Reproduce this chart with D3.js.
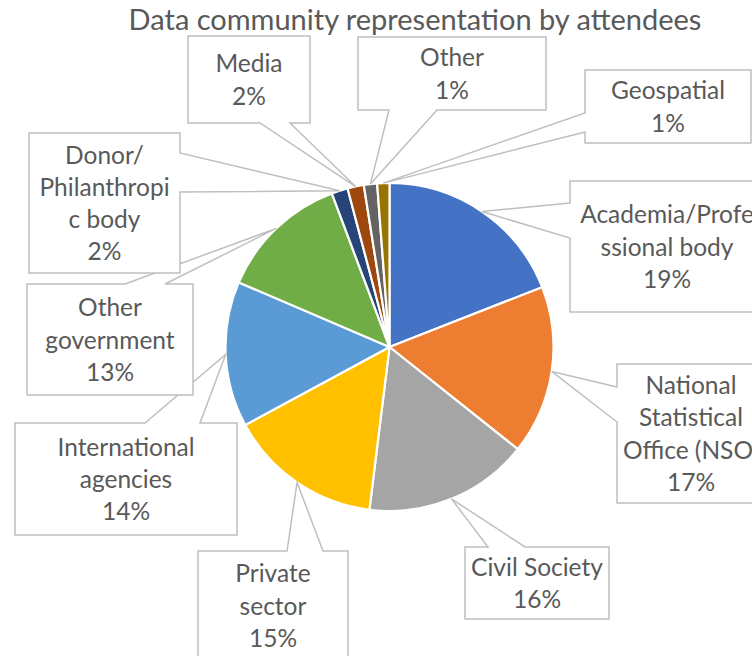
<!DOCTYPE html>
<html>
<head>
<meta charset="utf-8">
<script src="https://cdn.jsdelivr.net/npm/d3@7"></script>
<style>
  html, body { margin: 0; padding: 0; background: #fff; }
  svg { display: block; }
</style>
</head>
<body>
<svg id="chart" width="752" height="656"></svg>
<script>
// ---- data ----
const title = "Data community representation by attendees";
const categories = [
  "Academia/Professional body",
  "National Statistical Office (NSO)",
  "Civil Society",
  "Private sector",
  "International agencies",
  "Other government",
  "Donor/Philanthropic body",
  "Media",
  "Other",
  "Geospatial"
];
// share of attendees (percent)
const values = [19.0, 16.6, 16.2, 15.1, 14.3, 12.8, 1.6, 1.6, 1.3, 1.2];
// label text as wrapped in the original callouts
const labelLines = [
  ["Academia/Profe", "ssional body"],
  ["National", "Statistical", "Office (NSO)"],
  ["Civil Society"],
  ["Private", "sector"],
  ["International", "agencies"],
  ["Other", "government"],
  ["Donor/", "Philanthropi", "c body"],
  ["Media"],
  ["Other"],
  ["Geospatial"]
];
const colors = ["#4472C4", "#ED7D31", "#A5A5A5", "#FFC000", "#5B9BD5",
                "#70AD47", "#264478", "#9E480E", "#636363", "#997300"];

// ---- layout (callout boxes: x0,y0,x1,y1, wedge side, wedge base span) ----
const callouts = [
  {box: [570, 181, 764, 312], side: "left",   base: [203, 238]},
  {box: [617, 364, 765, 503], side: "left",   base: [387, 422]},
  {box: [465, 547, 609, 619], side: "top",    base: [488, 525]},
  {box: [198, 551, 348, 660], side: "top",    base: [287, 323]},
  {box: [15, 423, 237, 535],  side: "top",    base: [145, 200]},
  {box: [27, 284, 193, 395],  side: "top",    base: [125, 165]},
  {box: [29, 133, 180, 273],  side: "right",  base: [153, 192]},
  {box: [188, 36, 310, 123],  side: "bottom", base: [260, 290]},
  {box: [358, 37, 546, 110],  side: "bottom", base: [389, 437]},
  {box: [585, 70, 751, 143],  side: "left",   base: [113, 132]}
];

const svg = d3.select("#chart");
const cx = 389.5, cy = 347, R = 164;
const font = "Lato, 'Open Sans', sans-serif";
const textColor = "#595959";

svg.append("text")
  .attr("x", 415).attr("y", 30)
  .attr("text-anchor", "middle")
  .attr("font-family", font)
  .attr("font-size", 29)
  .attr("fill", textColor)
  .text(title);

const data = categories.map((c, i) => ({name: c, value: values[i], i}));
const total = d3.sum(values);
const pie = d3.pie().value(d => d.value).sort(null);
const arcs = pie(data);
const arc = d3.arc().innerRadius(0).outerRadius(R);
const color = d3.scaleOrdinal().domain(categories).range(colors);
const pct = d3.format(".0%");

const g = svg.append("g").attr("transform", `translate(${cx},${cy})`);
g.selectAll("path.slice").data(arcs).join("path")
  .attr("class", "slice")
  .attr("d", arc)
  .attr("fill", d => color(d.data.name))
  .attr("stroke", "#fff")
  .attr("stroke-width", 2.2)
  .attr("stroke-linejoin", "round");

// callouts
arcs.forEach((a, i) => {
  const co = callouts[i];
  const mid = (a.startAngle + a.endAngle) / 2;
  const ax = cx + R * Math.sin(mid), ay = cy - R * Math.cos(mid);
  const [x0, y0, x1, y1] = co.box;
  const [b0, b1] = co.base;
  const p = d3.path();
  p.moveTo(x0, y0);
  if (co.side === "top") { p.lineTo(b0, y0); p.lineTo(ax, ay); p.lineTo(b1, y0); }
  p.lineTo(x1, y0);
  if (co.side === "right") { p.lineTo(x1, b0); p.lineTo(ax, ay); p.lineTo(x1, b1); }
  p.lineTo(x1, y1);
  if (co.side === "bottom") { p.lineTo(b1, y1); p.lineTo(ax, ay); p.lineTo(b0, y1); }
  p.lineTo(x0, y1);
  if (co.side === "left") { p.lineTo(x0, b1); p.lineTo(ax, ay); p.lineTo(x0, b0); }
  p.closePath();
  svg.append("path")
    .attr("d", p.toString())
    .attr("fill", "#fff")
    .attr("stroke", "#BFBFBF")
    .attr("stroke-width", 1.5)
    .attr("stroke-linejoin", "miter");

  const lines = labelLines[i].concat([pct(a.data.value / total)]);
  const lh = 32.3;
  const boxMidX = (x0 + x1) / 2, boxMidY = (y0 + y1) / 2;
  // vertically center the text block in the box
  const firstBase = boxMidY - (lines.length * lh) / 2 + lh * 0.78;
  const t = svg.append("text")
    .attr("text-anchor", "middle")
    .attr("font-family", font)
    .attr("font-size", 24.5)
    .attr("fill", textColor);
  lines.forEach((s, k) => {
    t.append("tspan").attr("x", boxMidX).attr("y", firstBase + k * lh).text(s);
  });
});
</script>
</body>
</html>
